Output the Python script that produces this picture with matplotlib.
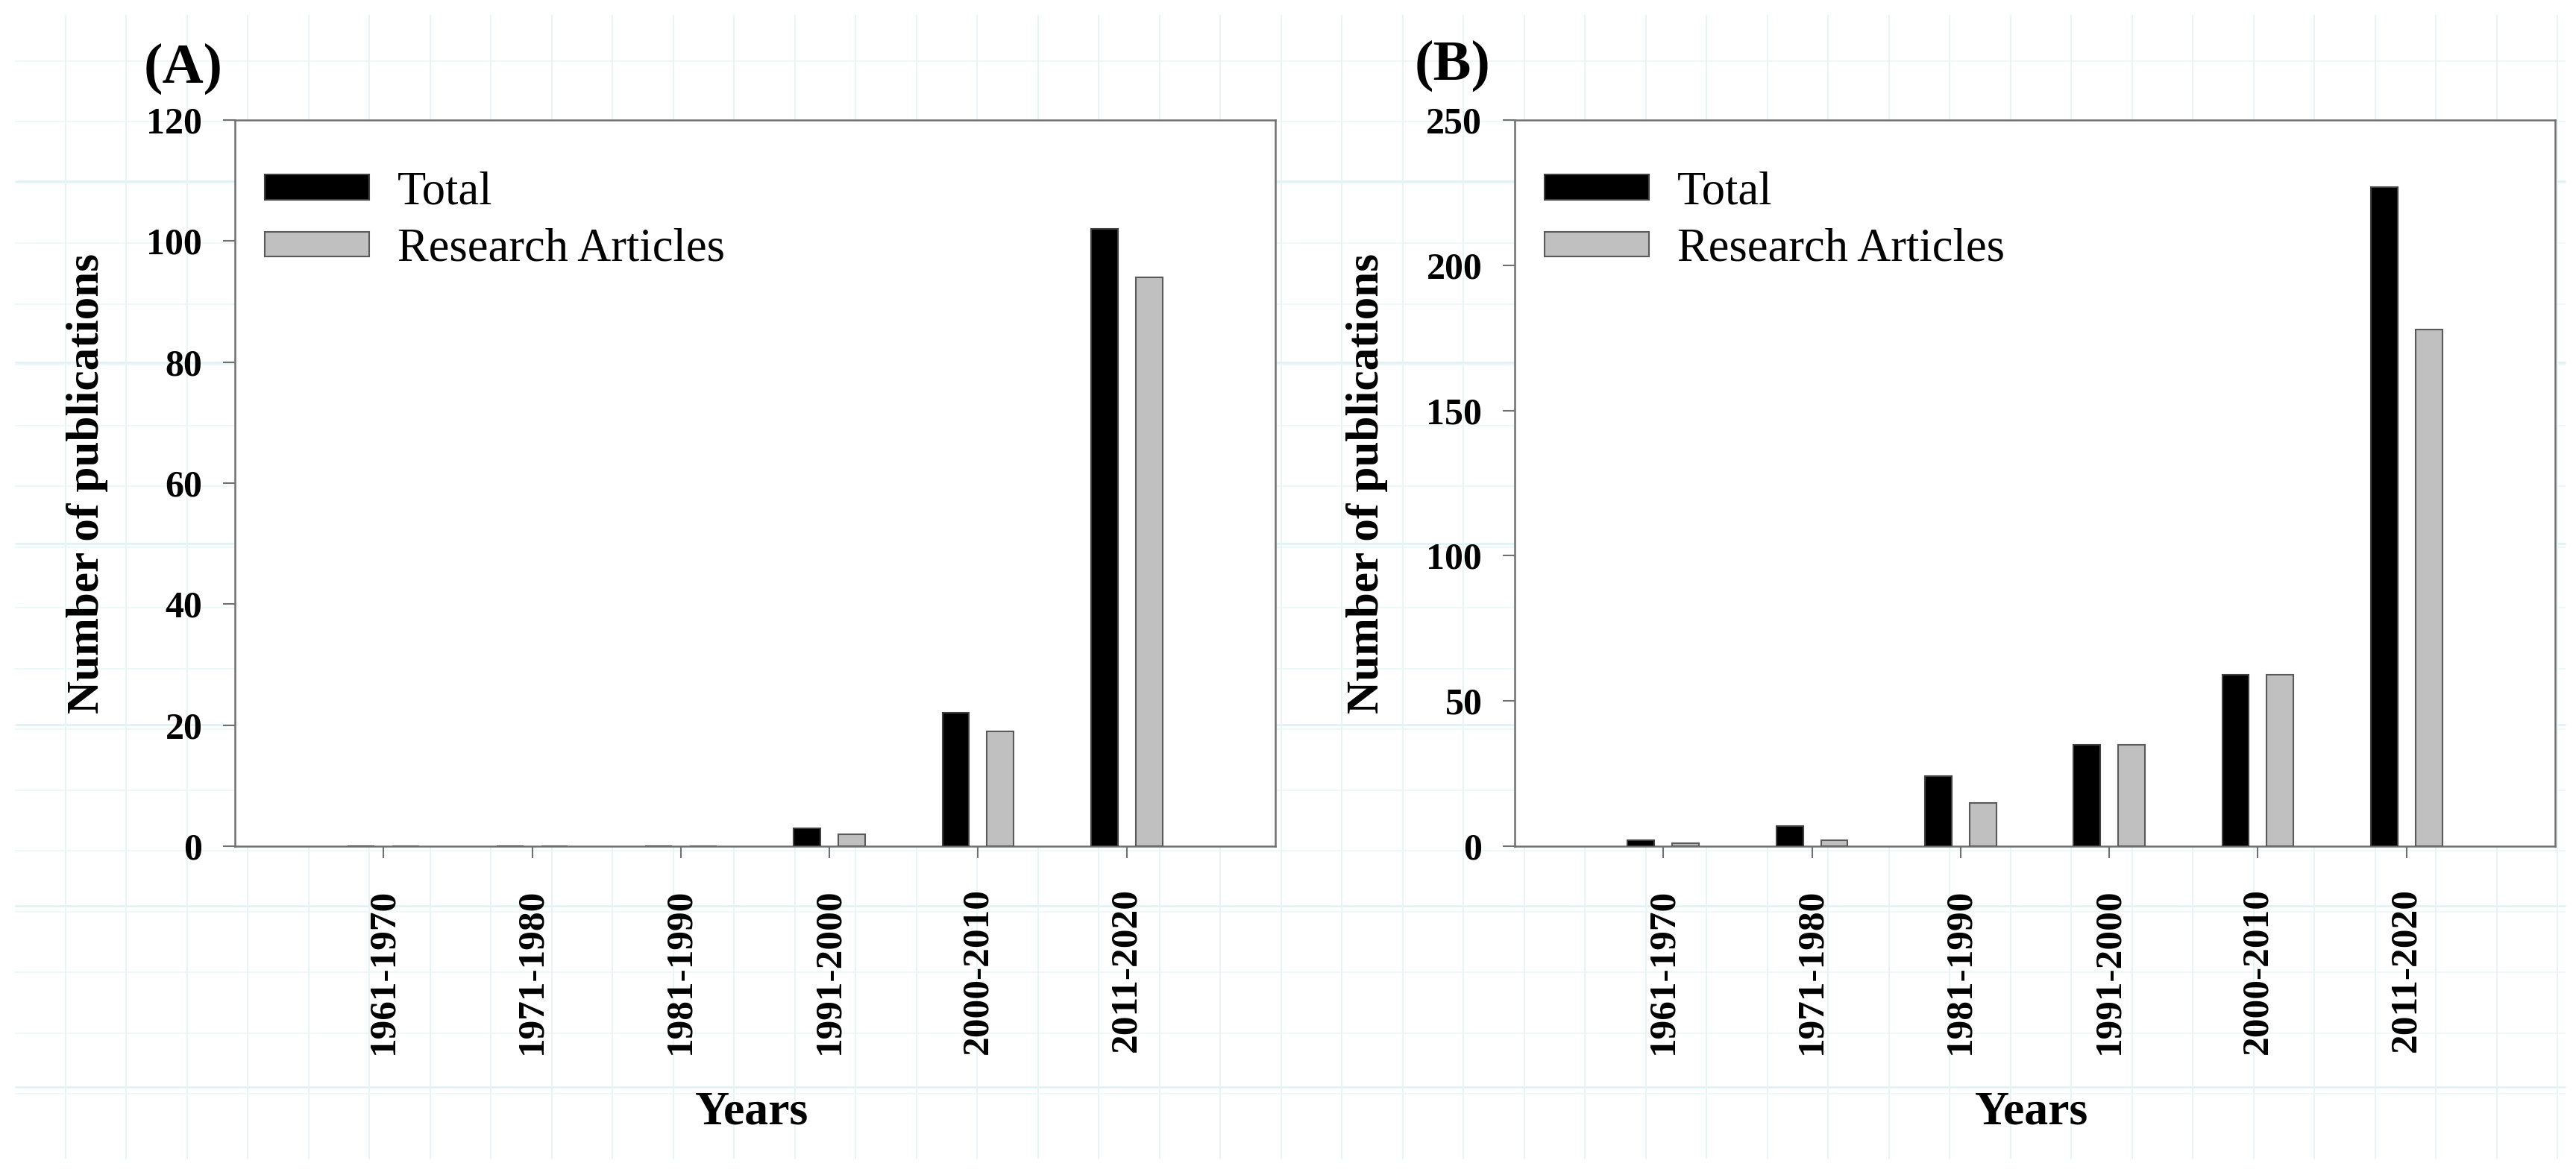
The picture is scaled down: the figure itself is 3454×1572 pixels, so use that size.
import numpy as np
import matplotlib
matplotlib.use("Agg")
import matplotlib.pyplot as plt

# ---------------- data ----------------
categories = ["1961-1970", "1971-1980", "1981-1990", "1991-2000", "2000-2010", "2011-2020"]
series_names = ["Total", "Research Articles"]

total_A = [0, 0, 0, 3, 22, 102]
research_A = [0, 0, 0, 2, 19, 94]

total_B = [2, 7, 24, 35, 59, 227]
research_B = [1, 2, 15, 35, 59, 178]

yticks_A = [0, 20, 40, 60, 80, 100, 120]
yticks_B = [0, 50, 100, 150, 200, 250]

panel_labels = ["(A)", "(B)"]
xlabel_text = "Years"
ylabel_text = "Number of publications"

# ---------------- style ----------------
plt.rcParams['font.family'] = ['Liberation Serif', 'DejaVu Serif']
W, H = 3454, 1572
fig = plt.figure(figsize=(W / 100, H / 100), dpi=100)
fig.patch.set_facecolor("white")

# faint page grid in the background (decoration)
bg = fig.add_axes([0, 0, 1, 1], zorder=-5)
bg.set_xlim(0, W)
bg.set_ylim(H, 0)
bg.axis("off")
step = 81.5
minor_h = np.arange(81.5, 1545, step)
major_h = np.arange(243, 1545, 243)
grid_v = np.arange(88, 3440, step)
bg.hlines(minor_h, 20, 3440, color="#eff8f8", lw=1.4)
bg.hlines(major_h, 20, 3440, color="#ddf2f2", lw=1.8)
bg.vlines(grid_v, 20, 1555, color="#e8f5f5", lw=1.4)

spine_col = "#707070"
x = np.arange(len(categories))
bw = 0.18
off = 0.15

axes_rects = [
    [315 / W, 1 - 1135 / H, 1395 / W, (1135 - 161) / H],
    [2031 / W, 1 - 1135 / H, 1395 / W, (1135 - 161) / H],
]
datasets = [(total_A, research_A, yticks_A), (total_B, research_B, yticks_B)]

for i, (rect, (tot, res, yt)) in enumerate(zip(axes_rects, datasets)):
    ax = fig.add_axes(rect, zorder=2)
    ax.set_facecolor("white")
    ax.bar(x - off, tot, bw, color="black", edgecolor="#404040", linewidth=1.5,
           label=series_names[0], zorder=3)
    ax.bar(x + off, res, bw, color="#c0c0c0", edgecolor="#5a5a5a", linewidth=1.5,
           label=series_names[1], zorder=3)
    ax.set_xlim(-1, 6)
    ax.set_ylim(yt[0], yt[-1])
    ax.set_yticks(yt)
    ax.set_yticklabels([str(v) for v in yt], fontsize=36, fontweight="bold")
    ax.set_xticks(x)
    ax.set_xticklabels(categories, rotation=90, fontsize=37, fontweight="bold")
    for s in ax.spines.values():
        s.set_color(spine_col)
        s.set_linewidth(1.8)
    ax.tick_params(axis="both", direction="out", length=11.5, width=1.5, color=spine_col)
    ax.tick_params(axis="y", pad=20)
    ax.tick_params(axis="x", pad=29)

    ax.legend(loc="upper left", bbox_to_anchor=(0.0287, 0.930), frameon=False,
              borderpad=0, borderaxespad=0, handlelength=2.24, handleheight=0.45,
              handletextpad=0.6, labelspacing=0.3,
              prop={"family": "Liberation Serif", "size": 45})

    left_px = rect[0] * W
    # y label
    fig.text((left_px - 198) / W, 1 - 648 / H, ylabel_text, rotation=90,
             ha="center", va="center", fontsize=44, fontweight="bold")
    # x label
    fig.text((left_px + 693) / W, 1 - 1463 / H, xlabel_text, ha="center", va="top",
             fontsize=46, fontweight="bold")

fig.text(246 / W, 1 - 92 / H, panel_labels[0], ha="center", va="center",
         fontsize=55, fontweight="bold")
fig.text(1948 / W, 1 - 88 / H, panel_labels[1], ha="center", va="center",
         fontsize=55, fontweight="bold")

fig.savefig("out.png", dpi=100, facecolor="white")
